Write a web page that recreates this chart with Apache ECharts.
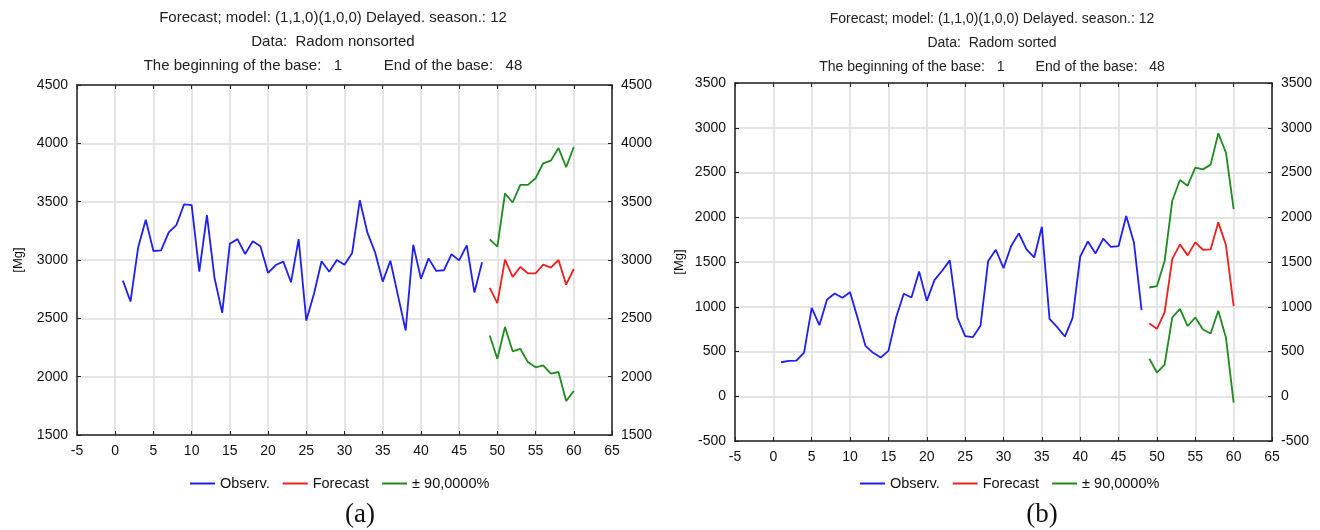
<!DOCTYPE html>
<html>
<head>
<meta charset="utf-8">
<script src="https://cdn.jsdelivr.net/npm/echarts@6/dist/echarts.min.js"></script>
<style>
html,body{margin:0;padding:0;background:#fff;}
#chart{width:1320px;height:530px;}
</style>
</head>
<body>
<div id="chart"></div>
<script>
// ---- Data ----
// Chart (a): Radom nonsorted
const obsA = [2823,2644,3108,3345,3077,3083,3236,3299,3476,3470,2900,3385,2843,2547,3140,3179,3051,3160,3117,2889,2957,2986,2809,3179,2481,2709,2989,2900,3000,2960,3060,3512,3234,3066,2815,2994,2695,2396,3131,2838,3014,2906,2912,3049,2997,3125,2721,2980];
const fcA = [2761,2630,3003,2855,2940,2886,2886,2960,2934,3000,2789,2923];
const upA = [3177,3114,3570,3493,3644,3644,3701,3829,3852,3960,3795,3969];
const loA = [2353,2154,2425,2217,2239,2125,2080,2097,2026,2040,1792,1877];
// Chart (b): Radom sorted
const obsB = [380,395,399,488,988,794,1081,1148,1100,1163,869,563,485,433,507,880,1145,1104,1394,1066,1298,1402,1518,876,671,660,787,1510,1637,1432,1678,1820,1641,1551,1894,865,772,667,873,1559,1730,1596,1760,1670,1678,2014,1719,962];
const fcB = [813,753,936,1532,1697,1574,1719,1637,1641,1943,1689,1007];
const upB = [1215,1230,1510,2185,2416,2353,2554,2535,2588,2938,2722,2092];
const loB = [421,265,354,880,977,783,880,746,701,955,653,-71];

const obsStart = 1, fcStart = 49;
const titlesA = ["Forecast; model: (1,1,0)(1,0,0) Delayed. season.: 12", "Data:  Radom nonsorted", "The beginning of the base:   1          End of the base:   48"];
const titlesB = ["Forecast; model: (1,1,0)(1,0,0) Delayed. season.: 12", "Data:  Radom sorted", "The beginning of the base:   1        End of the base:   48"];
const legendNames = ["Observ.", "Forecast", "\u00b1 90,0000%"];
const yAxisName = "[Mg]";
const yRangeA = [1500, 4500, 500];
const yRangeB = [-500, 3500, 500];
const xRange = [-5, 65, 5];

const toPairs = (arr, start) => arr.map((v, i) => [start + i, v]);
const plain = v => String(v);

const BLUE = '#1f1ff0', RED = '#f01f1f', GREEN = '#1f8a1f';
const AX = '#222';
const GRIDC = '#dddddd';
const FONT = 'Liberation Sans, Arial, sans-serif';

const grids = [
  {left: 77, top: 85, width: 535, height: 350},
  {left: 735, top: 83, width: 537, height: 358}
];

function xAxes(gi) {
  return [
    {gridIndex: gi, type: 'value', position: 'bottom', min: xRange[0], max: xRange[1], interval: xRange[2],
     axisLine: {show: true, onZero: false, lineStyle: {color: AX, width: 1.5}},
     axisTick: {show: true, inside: true, length: 4, lineStyle: {color: AX}},
     axisLabel: {color: '#111', fontSize: 14, fontFamily: FONT, margin: 9, formatter: plain},
     splitLine: {show: true, lineStyle: {color: GRIDC, width: 1.5}}},
    {gridIndex: gi, type: 'value', position: 'top', min: xRange[0], max: xRange[1], interval: xRange[2],
     axisLine: {show: true, onZero: false, lineStyle: {color: AX, width: 1.5}},
     axisTick: {show: true, inside: true, length: 4, lineStyle: {color: AX}},
     axisLabel: {show: false}, splitLine: {show: false}}
  ];
}
function yAxes(gi, r) {
  return [
    {gridIndex: gi, type: 'value', position: 'left', min: r[0], max: r[1], interval: r[2],
     name: yAxisName, nameLocation: 'middle', nameRotate: 90, nameGap: gi === 0 ? 52 : 49,
     nameTextStyle: {color: '#111', fontSize: 13, fontFamily: FONT},
     axisLine: {show: true, onZero: false, lineStyle: {color: AX, width: 1.5}},
     axisTick: {show: true, inside: true, length: 4, lineStyle: {color: AX}},
     axisLabel: {color: '#111', fontSize: 14, fontFamily: FONT, margin: 9, formatter: plain},
     splitLine: {show: true, lineStyle: {color: GRIDC, width: 1.5}}},
    {gridIndex: gi, type: 'value', position: 'right', min: r[0], max: r[1], interval: r[2],
     axisLine: {show: true, onZero: false, lineStyle: {color: AX, width: 1.5}},
     axisTick: {show: true, inside: true, length: 4, lineStyle: {color: AX}},
     axisLabel: {color: '#111', fontSize: 14, fontFamily: FONT, margin: 9, formatter: plain},
     splitLine: {show: false}}
  ];
}
function seriesFor(gi, obs, fc, up, lo) {
  const base = {type: 'line', xAxisIndex: gi * 2, yAxisIndex: gi * 2, showSymbol: false, symbol: 'none', animation: false};
  return [
    Object.assign({}, base, {name: legendNames[0], data: toPairs(obs, obsStart), lineStyle: {color: BLUE, width: 1.8}, itemStyle: {color: BLUE}}),
    Object.assign({}, base, {name: legendNames[1], data: toPairs(fc, fcStart), lineStyle: {color: RED, width: 1.8}, itemStyle: {color: RED}}),
    Object.assign({}, base, {name: legendNames[2], data: toPairs(up, fcStart), lineStyle: {color: GREEN, width: 1.8}, itemStyle: {color: GREEN}}),
    Object.assign({}, base, {name: legendNames[2], data: toPairs(lo, fcStart), lineStyle: {color: GREEN, width: 1.8}, itemStyle: {color: GREEN}})
  ];
}
function titleTexts(lines, cx, size, y0) {
  return lines.map((t, i) => ({type: 'text', x: cx, y: y0 + i * 24,
    style: {text: t, fill: '#222', font: size + 'px ' + FONT, textAlign: 'center', textVerticalAlign: 'middle'}}));
}
function legendFor(left) {
  return {data: legendNames, left: left, top: 476, padding: 0, icon: 'rect', itemWidth: 25, itemHeight: 2, itemGap: 13,
    textStyle: {color: '#111', fontSize: 14.5, fontFamily: FONT}, selectedMode: false};
}

const chart = echarts.init(document.getElementById('chart'), null, {renderer: 'canvas'});
chart.setOption({
  animation: false,
  backgroundColor: '#fff',
  grid: grids,
  xAxis: xAxes(0).concat(xAxes(1)),
  yAxis: yAxes(0, yRangeA).concat(yAxes(1, yRangeB)),
  legend: [legendFor(190), legendFor(860)],
  series: seriesFor(0, obsA, fcA, upA, loA).concat(seriesFor(1, obsB, fcB, upB, loB)),
  graphic: titleTexts(titlesA, 333, 15, 18).concat(titleTexts(titlesB, 992, 14, 19)).concat([
    {type: 'text', x: 360, y: 515, style: {text: '(a)', fill: '#111', font: '27px Liberation Serif, Times New Roman, serif', textAlign: 'center', textVerticalAlign: 'middle'}},
    {type: 'text', x: 1042, y: 515, style: {text: '(b)', fill: '#111', font: '27px Liberation Serif, Times New Roman, serif', textAlign: 'center', textVerticalAlign: 'middle'}}
  ])
});
</script>
</body>
</html>
